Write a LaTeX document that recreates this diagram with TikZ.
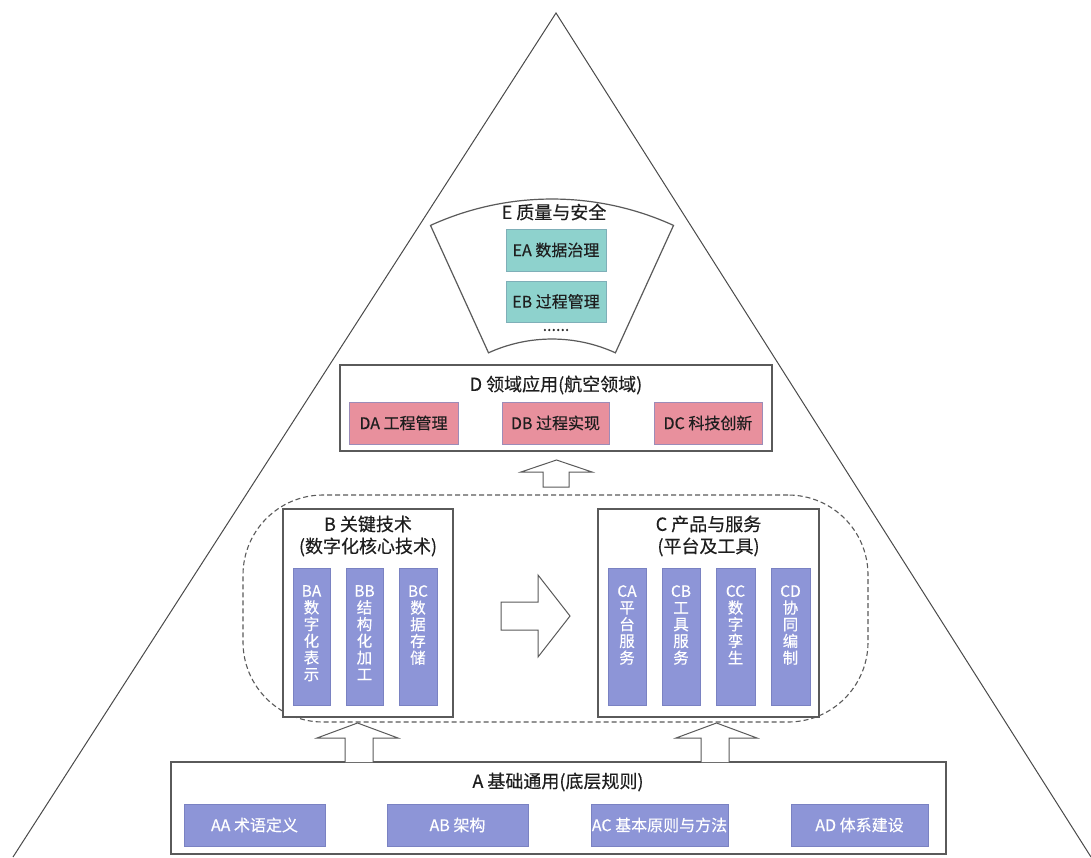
\documentclass[tikz,border=0pt]{standalone}
\usepackage{fontspec}
\setmainfont{Noto Sans CJK SC}[FakeBold=0.35]
\definecolor{bluefill}{HTML}{8D95D7}
\definecolor{bluedraw}{HTML}{7A82C2}
\definecolor{pinkfill}{HTML}{E8909D}
\definecolor{pinkdraw}{HTML}{9C8CB8}
\definecolor{tealfill}{HTML}{8ED2CD}
\definecolor{tealdraw}{HTML}{7FAFB8}
\definecolor{framegray}{HTML}{5A5A5A}
\definecolor{linegray}{HTML}{4A4A4A}
\definecolor{textdark}{HTML}{1E1E1E}
\begin{document}
\begin{tikzpicture}[x=1pt,y=-1pt,
  frame/.style={draw=framegray, line width=1.4pt, fill=white, inner sep=0pt},
  titletext/.style={font=\fontsize{18}{22}\selectfont, text=textdark, align=center, inner sep=0pt},
  hbox/.style={line width=1pt, inner sep=0pt, font=\fontsize{16}{18}\selectfont},
  bluebox/.style={hbox, draw=bluedraw, fill=bluefill, text=white, minimum height=42pt},
  pinkbox/.style={hbox, draw=pinkdraw, fill=pinkfill, text=textdark, minimum height=42pt},
  tealbox/.style={hbox, draw=tealdraw, fill=tealfill, text=textdark, minimum width=100pt},
  vbox/.style={draw=bluedraw, fill=bluefill, line width=1pt, inner sep=0pt, minimum width=38pt, minimum height=137pt},
  vtext/.style={text=white, align=center, inner sep=0pt, anchor=north, font=\fontsize{15.5}{16.7}\selectfont},
  blockarrow/.style={draw=framegray, line width=1pt, fill=white, line join=miter},
  groupline/.style={draw=framegray, line width=1.1pt, dash pattern=on 5pt off 3pt, rounded corners=80pt, inner sep=0pt}
]
\useasboundingbox (0,0) rectangle (1091,857);
\fill[white] (0,0) rectangle (1091,857);

% outer triangle
\coordinate (apex) at (556,13);
\coordinate (tl) at (13,857);
\coordinate (tr) at (1091,857);
\draw[linegray, line width=1pt] (tl) -- (apex) -- (tr);

% E fan
\draw[framegray, line width=1.2pt, fill=white]
  (430.5,225.4) arc[start angle=114.5, end angle=65.5, radius=293pt]
  -- (615.4,352.8) arc[start angle=65.5, end angle=114.5, radius=153pt] -- cycle;
\node[titletext] (Etitle) at (554,212) {E 质量与安全};
\node[tealbox, minimum height=42pt] (EA) at (556,250) {EA 数据治理};
\node[tealbox, minimum height=41pt] (EB) at (556,301.5) {EB 过程管理};
\node[font=\fontsize{16}{18}\selectfont, inner sep=0pt, text=textdark] (Edots) at (556,330) {......};

% D
\node[frame, minimum width=432pt, minimum height=86pt] (D) at (556,408) {};
\node[titletext] (Dtitle) at (556,385) {D 领域应用(航空领域)};
\node[pinkbox, minimum width=109pt] (DA) at (403.5,423) {DA 工程管理};
\node[pinkbox, minimum width=107pt] (DB) at (555.5,423) {DB 过程实现};
\node[pinkbox, minimum width=108pt] (DC) at (708,423) {DC 科技创新};

% arrow to D
\draw[blockarrow] (543,487) -- (543,472) -- (521,472) -- (556.5,460) -- (592,472) -- (569,472) -- (569,487) -- cycle;

% dashed group
\node[groupline, minimum width=625pt, minimum height=227pt] (group) at (555.5,608.5) {};

% B
\node[frame, minimum width=170pt, minimum height=208pt] (B) at (368,613) {};
\node[titletext] (Btitle) at (368,536) {B 关键技术\\(数字化核心技术)};
\node[vbox, minimum width=37pt] (BA) at (311.5,637) {};
\node[vbox, minimum width=37pt] (BB) at (364.5,637) {};
\node[vbox] (BC) at (418,637) {};
\node[vtext] (BAt) at ([yshift=-17pt]BA.north) {BA\\数\\字\\化\\表\\示};
\node[vtext] (BBt) at ([yshift=-17pt]BB.north) {BB\\结\\构\\化\\加\\工};
\node[vtext] (BCt) at ([yshift=-17pt]BC.north) {BC\\数\\据\\存\\储};

% arrow B -> C
\draw[blockarrow] (501,602) -- (538,602) -- (538,575) -- (570,616) -- (538,657) -- (538,630) -- (501,630) -- cycle;

% C
\node[frame, minimum width=221pt, minimum height=208pt] (C) at (708.5,613) {};
\node[titletext] (Ctitle) at (708.5,536) {C 产品与服务\\(平台及工具)};
\node[vbox] (CA) at (627,637) {};
\node[vbox] (CB) at (681,637) {};
\node[vbox, minimum width=39pt] (CC) at (735.5,637) {};
\node[vbox, minimum width=39pt] (CD) at (790.5,637) {};
\node[vtext] (CAt) at ([yshift=-17pt]CA.north) {CA\\平\\台\\服\\务};
\node[vtext] (CBt) at ([yshift=-17pt]CB.north) {CB\\工\\具\\服\\务};
\node[vtext] (CCt) at ([yshift=-17pt]CC.north) {CC\\数\\字\\孪\\生};
\node[vtext] (CDt) at ([yshift=-17pt]CD.north) {CD\\协\\同\\编\\制};

% A
\node[frame, minimum width=775pt, minimum height=92pt] (A) at (558.5,808) {};
\node[titletext] (Atitle) at (558,782) {A 基础通用(底层规则)};
\node[bluebox, minimum width=141pt] (AA) at (254.5,825) {AA 术语定义};
\node[bluebox, minimum width=141pt] (AB) at (457.5,825) {AB 架构};
\node[bluebox, minimum width=137pt] (AC) at (659.5,825) {AC 基本原则与方法};
\node[bluebox, minimum width=137pt] (AD) at (859.5,825) {AD 体系建设};

% arrows A -> group
\draw[blockarrow] (345,762) -- (345,738) -- (317,738) -- (357.5,723) -- (398,738) -- (373,738) -- (373,762);
\draw[blockarrow] (701,762) -- (701,738) -- (676,738) -- (716.5,723) -- (757,738) -- (729,738) -- (729,762);
\end{tikzpicture}
\end{document}
